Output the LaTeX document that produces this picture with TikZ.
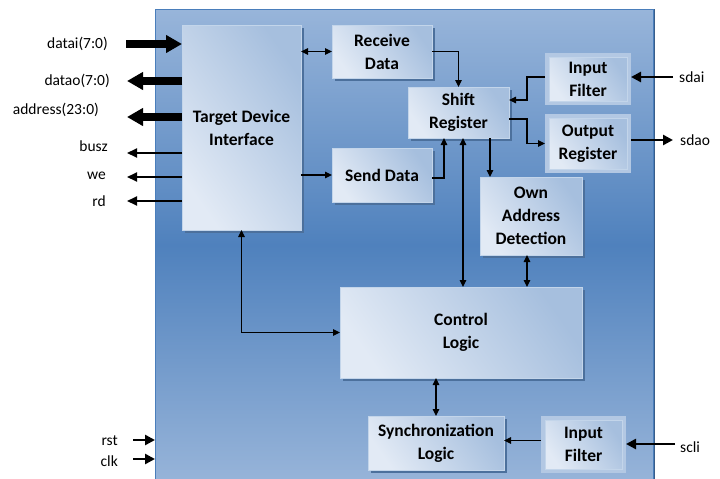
\documentclass[tikz,border=0pt]{standalone}
\usepackage{fontspec}
\setmainfont{Carlito}
\usetikzlibrary{arrows.meta,shadows,calc}
\definecolor{bgtop}{HTML}{98B5DA}
\definecolor{bgmid}{HTML}{4F81BD}
\definecolor{bgbot}{HTML}{97B4D9}
\definecolor{chipline}{HTML}{4A7EBB}
\definecolor{chipshadow}{HTML}{385D8A}
\definecolor{boxlight}{HTML}{E2EAF5}
\definecolor{boxdark}{HTML}{A6BFDE}
\definecolor{boxline}{HTML}{C3D5EA}
\definecolor{boxshadow}{HTML}{4C709C}
\definecolor{framec}{HTML}{B3C8E3}
\newcommand{\boxfont}{\fontsize{17.5}{23}\selectfont\bfseries}
\newcommand{\sigfont}{\fontsize{15.5}{18}\selectfont}
\begin{document}
\begin{tikzpicture}[x=1pt,y=-1pt,
  chipbox/.style={anchor=north west, inner sep=0pt, outer sep=0pt,
    minimum width=498pt, minimum height=472pt, draw=chipline, line width=0.8pt,
    top color=bgtop, bottom color=bgbot, middle color=bgmid,
    general shadow={fill=chipshadow, shadow xshift=1.5pt, shadow yshift=0pt}},
  blk/.style={anchor=north west, inner sep=0pt, outer sep=0pt, align=center,
    font=\boxfont, draw=boxline, line width=0.6pt,
    left color=boxlight, right color=boxdark, shading angle=125,
    general shadow={fill=boxshadow, shadow xshift=2.5pt, shadow yshift=-2.5pt}},
  filt/.style={anchor=north west, inner sep=0pt, outer sep=0pt, align=center,
    font=\boxfont, draw=boxline, line width=0.8pt,
    left color=boxlight, right color=boxdark, shading angle=125,
    preaction={draw=framec, line width=8pt}},
  lbl/.style={font=\sigfont, inner sep=0pt},
  thin/.style={line width=1.2pt, >={Triangle[length=7pt,width=6.5pt]}},
  sig/.style={line width=2pt, >={Triangle[length=10pt,width=9pt]}},
  bus/.style={line width=7.5pt, >={Triangle[length=16pt,width=17pt]}},
  ext/.style={line width=2.6pt, >={Triangle[length=10pt,width=10pt]}}
]
\useasboundingbox (0,0) rectangle (720,479);
\fill[white] (0,0) rectangle (720,479);
\begin{scope}
\clip (0,0) rectangle (720,479);
\node[chipbox] (chip) at (155,9) {};
\end{scope}

% blocks
\node[blk, minimum width=119pt, minimum height=205pt] (tdi) at (182,25) {Target Device\\Interface};
\node[blk, minimum width=100pt, minimum height=53pt] (rcv) at (332,25) {Receive\\Data};
\node[blk, minimum width=100pt, minimum height=54pt] (sd) at (332,148) {Send Data};
\node[blk, minimum width=101pt, minimum height=51pt] (sr) at (408,87) {Shift\\Register};
\node[filt, minimum width=78pt, minimum height=44pt] (ifa) at (549,57) {Input\\Filter};
\node[filt, minimum width=78pt, minimum height=51pt] (or) at (549,118) {Output\\Register};
\node[blk, minimum width=102pt, minimum height=78pt] (oad) at (480,177) {Own\\Address\\Detection};
\node[blk, minimum width=242pt, minimum height=91pt] (cl) at (340,287) {Control\\Logic};
\node[blk, minimum width=136pt, minimum height=54pt] (sync) at (368,416) {Synchronization\\Logic};
\node[filt, minimum width=77pt, minimum height=49pt] (ifc) at (545,420) {Input\\Filter};

% left signals
\coordinate (pdatai) at (126,44);
\coordinate (pdatao) at (127,81);
\coordinate (paddr) at (127,117);
\coordinate (pbusz) at (127,153);
\coordinate (pwe) at (127,177);
\coordinate (prd) at (127,201);
\draw[bus,->] (pdatai) -- (pdatai -| tdi.west);
\draw[bus,->] (pdatao -| tdi.west) -- (pdatao);
\draw[bus,->] (paddr -| tdi.west) -- (paddr);
\draw[sig,->] (pbusz -| tdi.west) -- (pbusz);
\draw[sig,->] (pwe -| tdi.west) -- (pwe);
\draw[sig,->] (prd -| tdi.west) -- (prd);
\node[lbl, anchor=east] (ldatai) at (108,44) {datai(7:0)};
\node[lbl, anchor=east] (ldatao) at (110,81) {datao(7:0)};
\node[lbl, anchor=east] (laddr) at (99,110) {address(23:0)};
\node[lbl, anchor=east] (lbusz) at (108,146) {busz};
\node[lbl, anchor=east] (lwe) at (106,176) {we};
\node[lbl, anchor=east] (lrd) at (106,201) {rd};

% rst / clk
\coordinate (prst) at (133,440);
\coordinate (pclk) at (133,459);
\draw[ext,->] (prst) -- (prst -| chip.west);
\draw[ext,->] (pclk) -- (pclk -| chip.west);
\node[lbl, anchor=east] (lrst) at (118,441) {rst};
\node[lbl, anchor=east] (lclk) at (118,461) {clk};

% internal connectors
\draw[thin,<->] (rcv.west -| tdi.east) -- (rcv.west);
\draw[thin,->] (sd.west -| tdi.east) -- (sd.west);
\draw[thin,->] (rcv.east) -| (sr.north);
\draw[thin,->] ([yshift=-3pt]sd.east) -| ([xshift=-14.5pt]sr.south);
\draw[thin,->] ([xshift=-4pt,yshift=2pt]ifa.west) -- ++(-18,0) |- ([yshift=12.5pt]sr.east);
\draw[thin,->] ([yshift=-6.5pt]sr.east) -- ++(18,0) |- ([xshift=-4pt]or.west);
\draw[thin,->] ([xshift=31.5pt]sr.south) -- ([xshift=31.5pt]sr.south |- oad.north);
\draw[thin,<->] ([xshift=4.5pt]sr.south) -- ([xshift=4.5pt]sr.south |- cl.north);
\draw[thin,<->] ([xshift=-4pt]oad.south) -- ([xshift=-4pt]oad.south |- cl.north);
\draw[thin,<->] (tdi.south) |- (cl.west);
\draw[thin,<->] (sync.north) -- (sync.north |- cl.south);
\draw[thin,->] ([xshift=-4pt,yshift=4pt]ifc.west) -- ([yshift=4pt]ifc.west -| sync.east);

% right external signals
\coordinate (psdai) at (673,77);
\coordinate (psdao) at (673,140);
\coordinate (pscli) at (675,444);
\draw[ext,->] (psdai) -- ([xshift=4pt]psdai -| ifa.east);
\draw[ext,->] ([xshift=4pt]psdao -| or.east) -- (psdao);
\draw[ext,->] (pscli) -- ([xshift=4pt]pscli -| ifc.east);
\node[lbl, anchor=west] (lsdai) at (679,77) {sdai};
\node[lbl, anchor=west] (lsdao) at (680,140) {sdao};
\node[lbl, anchor=west] (lscli) at (680,447) {scli};
\end{tikzpicture}
\end{document}
